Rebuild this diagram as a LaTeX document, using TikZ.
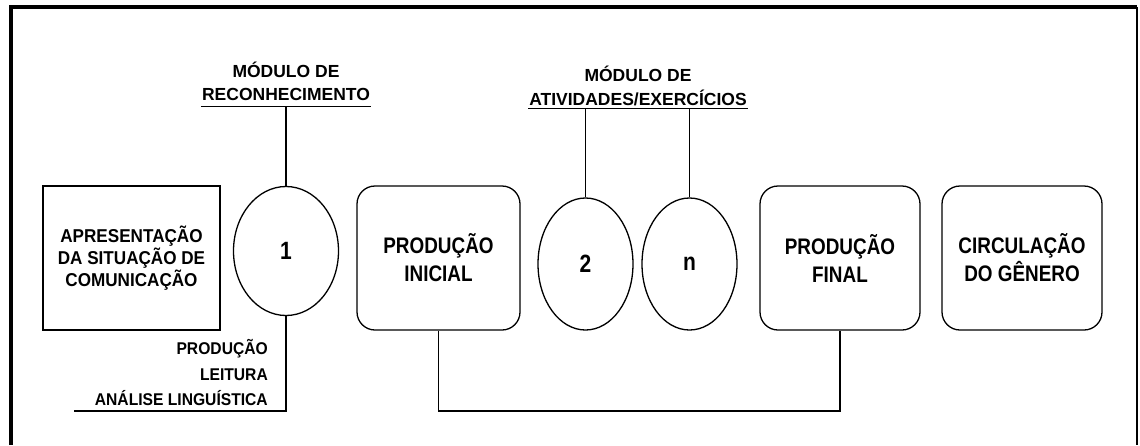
\documentclass[tikz,border=0pt]{standalone}
\usepackage{fontspec}
\setmainfont{Liberation Sans}
\newfontfamily\estreita{Liberation Sans}[FakeStretch=0.84]
\newfontfamily\media{Liberation Sans}[FakeStretch=0.92]
\usetikzlibrary{shapes}

\begin{document}
\begin{tikzpicture}[x=1pt,y=-1pt,
    etapa/.style={draw,line width=1.3pt,rounded corners=18pt,minimum height=144pt,align=center,
        font=\estreita\bfseries\fontsize{22.5}{28}\selectfont},
    modulo/.style={draw,ellipse,line width=1.3pt,inner sep=0pt,font=\estreita\bfseries\fontsize{25}{30}\selectfont},
    rotulo/.style={inner xsep=1pt,anchor=base,font=\bfseries\fontsize{17.5}{24}\selectfont},
    pratica/.style={inner sep=0pt,anchor=base east,font=\media\bfseries\fontsize{17}{25}\selectfont},
    ligacao/.style={line width=1.3pt}]
    \useasboundingbox (0,0) rectangle (1140,445);

    % Moldura
    \draw[line width=4pt] (11,445) -- (11,7) -- (1137,7);
    \draw[line width=1.5pt] (1137,7) -- (1137,445);

    % Etapas
    \node[etapa,rounded corners=0pt,minimum width=177pt,font=\media\bfseries\fontsize{18.6}{21.8}\selectfont] (apres) at (131.5,258) {APRESENTAÇÃO\\DA SITUAÇÃO DE\\COMUNICAÇÃO};
    \node[etapa,minimum width=163pt] (pinicial) at (438.5,258) {PRODUÇÃO\\INICIAL};
    \node[etapa,minimum width=160pt] (pfinal) at (840,258) {PRODUÇÃO\\FINAL};
    \node[etapa,minimum width=160pt] (circ) at (1022,258) {CIRCULAÇÃO\\DO GÊNERO};

    % Modulos
    \node[modulo,minimum width=105pt,minimum height=129pt] (m1) at (286,251) {1};
    \node[modulo,minimum width=95pt,minimum height=132pt] (m2) at (585.5,264) {2};
    \node[modulo,minimum width=95pt,minimum height=132pt] (mn) at (689.5,264) {n};

    % Rotulos dos modulos
    \node[rotulo] (recA) at (286,77.7) {MÓDULO DE};
    \node[rotulo] (recB) at (286,100) {RECONHECIMENTO};
    \coordinate (subA1) at ([yshift=-6.7pt]recB.base west);
    \coordinate (subA2) at ([yshift=-6.7pt]recB.base east);
    \draw[ligacao] (subA1) -- (subA2);

    \node[rotulo] (ativA) at (638,81) {MÓDULO DE};
    \node[rotulo] (ativB) at (638,105) {ATIVIDADES/EXERCÍCIOS};
    \coordinate (subB1) at ([yshift=-3.5pt]ativB.base west);
    \coordinate (subB2) at ([yshift=-3.5pt]ativB.base east);
    \draw[ligacao] (subB1) -- (subB2);

    \node[pratica] (prod) at (268,354) {PRODUÇÃO};
    \node[pratica] (leit) at (268,380) {LEITURA};
    \node[pratica] (anal) at (268,405) {ANÁLISE LINGUÍSTICA};

    % Ligacoes
    \coordinate (pontaA) at (74,411);
    \coordinate (base) at (0,411);
    \draw[ligacao] (m1.north) -- (m1.north |- subA1);
    \draw[ligacao] (m2.north) -- (m2.north |- subB1);
    \draw[ligacao] (mn.north) -- (mn.north |- subB1);
    \draw[ligacao] (m1.south) |- (pontaA);
    \draw[ligacao] (pinicial.south) |- (base -| pfinal.south) -- (pfinal.south);
\end{tikzpicture}
\end{document}
